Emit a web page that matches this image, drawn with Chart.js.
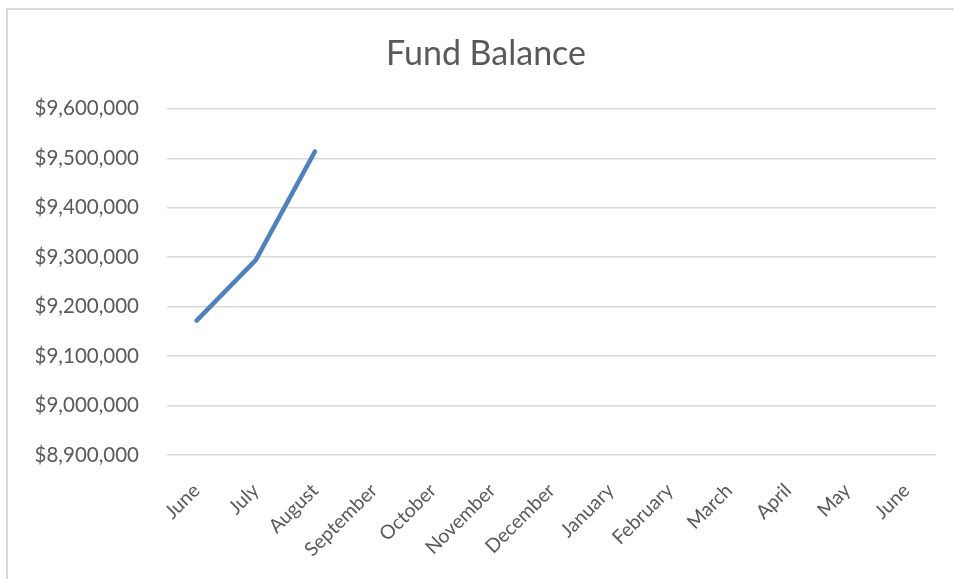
<!DOCTYPE html>
<html>
<head>
<meta charset="utf-8">
<script src="https://cdn.jsdelivr.net/npm/chart.js@4"></script>
<style>
  html, body { margin: 0; padding: 0; background: #fff; }
  #frame {
    position: absolute; left: 6px; top: 8px; width: 960px; height: 580px;
    border-left: 2px solid #d9d9d9; border-top: 2px solid #d9d9d9;
  }
  #wrap { position: absolute; left: 0; top: 0; width: 954px; height: 579px; }
</style>
</head>
<body>
<div id="frame"></div>
<div id="wrap"><canvas id="fundChart" width="954" height="579"></canvas></div>
<script>
const months = ["June", "July", "August", "September", "October", "November",
  "December", "January", "February", "March", "April", "May", "June"];
const balances = [9171600, 9294000, 9513500, null, null, null, null, null, null, null, null, null, null];
const yMin = 8900000;
const yMax = 9600000;
const yStep = 100000;

const textColor = "#595959";
const fontFamily = "Lato, 'Open Sans', sans-serif";

const ctx = document.getElementById("fundChart").getContext("2d");

new Chart(ctx, {
  type: "line",
  data: {
    labels: months,
    datasets: [
      {
        label: "Fund Balance",
        data: balances,
        borderColor: "#4f81bd",
        borderWidth: 4.5,
        borderCapStyle: "round",
        borderJoinStyle: "round",
        pointRadius: 0,
        tension: 0,
        spanGaps: false,
      },
    ],
  },
  options: {
    responsive: false,
    animation: false,
    layout: { padding: { left: 36, right: 18, top: 0, bottom: 0 } },
    plugins: {
      legend: { display: false },
      tooltip: { enabled: false },
      title: {
        display: true,
        text: "Fund Balance",
        color: textColor,
        font: { family: fontFamily, size: 34, weight: "normal" },
        padding: { top: 34, bottom: 34 },
      },
    },
    scales: {
      x: {
        offset: true,
        grid: { display: false, drawTicks: false },
        border: { display: false },
        ticks: {
          color: textColor,
          font: { family: fontFamily, size: 19.5 },
          minRotation: 45,
          maxRotation: 45,
          padding: 24,
          autoSkip: false,
        },
        afterFit: (scale) => { scale.height = 124; },
      },
      y: {
        min: yMin,
        max: yMax,
        grid: { color: "#d9d9d9", lineWidth: 1.5, drawTicks: false },
        border: { display: false },
        ticks: {
          stepSize: yStep,
          color: textColor,
          font: { family: fontFamily, size: 20.5 },
          padding: 28,
          callback: (value) => "$" + value.toLocaleString("en-US"),
        },
        afterFit: (scale) => { scale.width = 131; },
      },
    },
  },
});
</script>
</body>
</html>
